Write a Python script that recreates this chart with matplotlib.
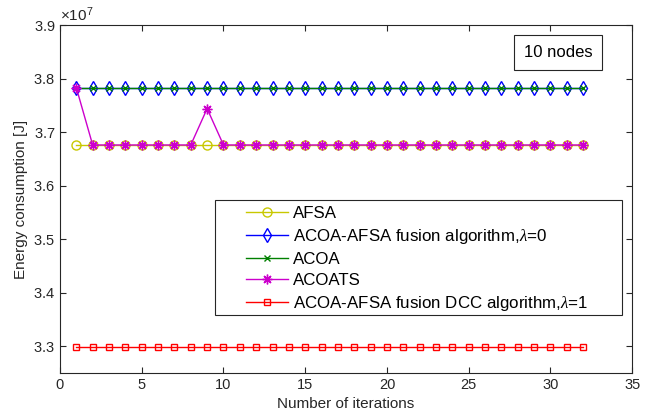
import numpy as np
import matplotlib
matplotlib.use("Agg")
from matplotlib import pyplot as plt
from matplotlib.ticker import ScalarFormatter
from matplotlib.patches import Rectangle

plt.rcParams["font.family"] = ["Liberation Sans", "DejaVu Sans"]
plt.rcParams["mathtext.fontset"] = "custom"
plt.rcParams["mathtext.rm"] = "Liberation Sans"
plt.rcParams["mathtext.it"] = "Liberation Serif:italic"

iters = np.arange(1, 33)

afsa = [3.676e7] * 32
fusion_l0 = [3.783e7] * 32
acoa = [3.783e7] * 32
acoats = [3.783e7] + [3.676e7] * 7 + [3.744e7] + [3.676e7] * 23
fusion_l1 = [3.298e7] * 32

labels = ["AFSA",
          r"ACOA-AFSA fusion algorithm,$\lambda$=0",
          "ACOA",
          "ACOATS",
          r"ACOA-AFSA fusion DCC algorithm,$\lambda$=1"]

fig = plt.figure(figsize=(6.54, 4.19), dpi=100)
ax = fig.add_axes([0.0917, 0.110, 0.875, 0.830])

ax.plot(iters, afsa, color="#c8c800", lw=1, marker="o", ms=6.5, mfc="none", label=labels[0])
ax.plot(iters, fusion_l0, color="blue", lw=1, marker="d", ms=7, mfc="none", label=labels[1])
ax.plot(iters, acoa, color="green", lw=1, marker="x", ms=4.5, label=labels[2])
ax.plot(iters, acoats, color="#cc00cc", lw=1, marker=(8, 2, 0), ms=7, label=labels[3])
ax.plot(iters, fusion_l1, color="red", lw=1, marker="s", ms=5, mfc="none", label=labels[4])

ax.set_xlim(0, 35)
ax.set_ylim(3.25e7, 3.9e7)
ax.set_xticks(np.arange(0, 36, 5))
ax.set_yticks(np.arange(3.3e7, 3.91e7, 0.1e7))

fmt = ScalarFormatter(useMathText=True)
fmt.set_powerlimits((0, 0))
ax.yaxis.set_major_formatter(fmt)
ax.yaxis.get_offset_text().set_fontsize(11)
ax.yaxis.get_offset_text().set_color("#262626")

ax.tick_params(direction="in", top=True, right=True, labelsize=10.5,
               colors="#262626", length=4, width=0.8)
for s in ax.spines.values():
    s.set_color("#262626")
    s.set_linewidth(0.8)

ax.set_xlabel("Number of iterations", fontsize=11, color="#262626")
ax.set_ylabel("Energy consumption [J]", fontsize=11, color="#262626")

# legend box (matlab style, wider than its content)
ax.add_patch(Rectangle((0.271, 0.166), 0.711, 0.331, transform=ax.transAxes,
                       fc="white", ec="#262626", lw=0.8, zorder=4))
leg = ax.legend(loc="upper left", bbox_to_anchor=(0.325, 0.48), fontsize=12.2,
                frameon=False, handlelength=2.5, handletextpad=0.25,
                borderpad=0, labelspacing=0.36, borderaxespad=0)
leg.set_zorder(5)

ax.text(0.870, 0.921, "10 nodes", transform=ax.transAxes, fontsize=12,
        ha="center", va="center",
        bbox=dict(boxstyle="square,pad=0.6", fc="white", ec="#262626", lw=0.8))

plt.savefig("out.png", dpi=100)
